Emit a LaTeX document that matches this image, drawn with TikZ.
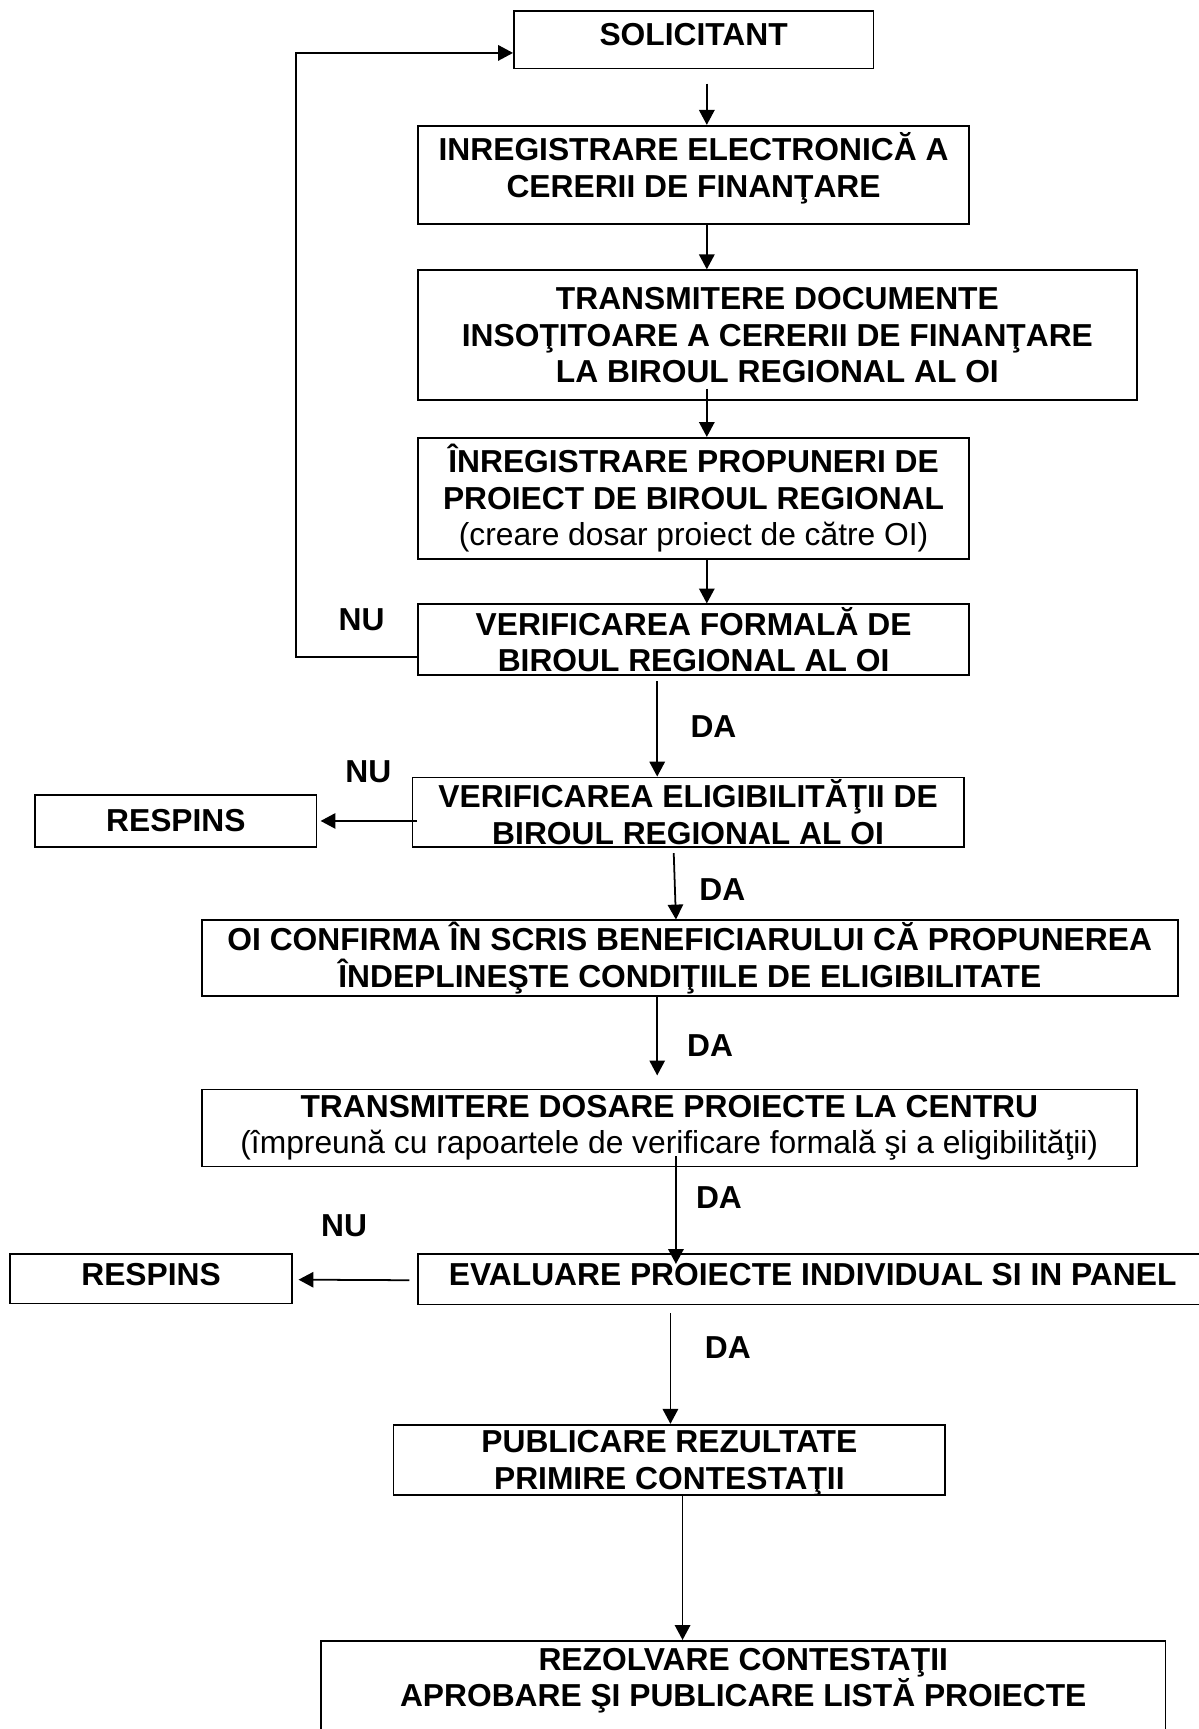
\documentclass[tikz,border=0pt]{standalone}
\usepackage{fontspec}
\setmainfont{Liberation Sans}
\usetikzlibrary{arrows.meta,calc}

\tikzset{
  box/.style={draw, rectangle, line width=1.5pt, align=center, inner sep=2pt,
    font=\bfseries\fontsize{28.8}{33}\selectfont},
  arr/.style={line width=1.6pt, -{Triangle[length=13.5pt,width=14pt]}},
  lbl/.style={font=\bfseries\fontsize{28.8}{33}\selectfont}
}

\begin{document}
\begin{tikzpicture}[x=1pt,y=1pt]
\useasboundingbox (0,0) rectangle (1087,-1568);
\begin{scope}
    \node[box, minimum width=326pt, minimum height=52pt, text depth=9pt] (sol) at (629,-36) {SOLICITANT};
    \node[box, minimum width=500pt, minimum height=89pt, text depth=18pt] (inreg) at (629,-158.5) {INREGISTRARE ELECTRONICĂ A\\CERERII DE FINANŢARE};
    \node[box, minimum width=652pt, minimum height=118pt] (trans) at (705,-304) {TRANSMITERE DOCUMENTE\\INSOŢITOARE A CERERII DE FINANŢARE\\LA BIROUL REGIONAL AL OI};
    \node[box, minimum width=500pt, minimum height=110pt] (prop) at (629,-452) {ÎNREGISTRARE PROPUNERI DE\\PROIECT DE BIROUL REGIONAL\\{\mdseries (creare dosar proiect de către OI)}};
    \node[box, minimum width=500pt, minimum height=64pt] (verf) at (629,-580) {VERIFICAREA FORMALĂ DE\\BIROUL REGIONAL AL OI};
    \node[box, minimum width=500pt, minimum height=63pt] (elig) at (624,-736.5) {VERIFICAREA ELIGIBILITĂŢII DE\\BIROUL REGIONAL AL OI};
    \node[box, minimum width=255pt, minimum height=47pt] (resp1) at (159.5,-744.5) {RESPINS};
    \node[box, minimum width=885pt, minimum height=58pt] (conf) at (625.5,-869) {OI CONFIRMA ÎN SCRIS BENEFICIARULUI CĂ PROPUNEREA\\ÎNDEPLINEŞTE CONDIŢIILE DE ELIGIBILITATE};
    \node[box, minimum width=848pt, minimum height=70pt] (dos) at (607,-1023) {TRANSMITERE DOSARE PROIECTE LA CENTRU\\{\mdseries (împreună cu rapoartele de verificare formală şi a eligibilităţii)}};
    \node[box, minimum width=716pt, minimum height=46pt, text depth=8pt] (eval) at (737,-1160) {EVALUARE PROIECTE INDIVIDUAL SI IN PANEL};
    \node[box, minimum width=256pt, minimum height=45pt, text depth=8pt] (resp2) at (137,-1159.5) {RESPINS};
    \node[box, minimum width=500pt, minimum height=64pt, text depth=-4pt] (pub) at (607,-1324) {PUBLICARE REZULTATE\\PRIMIRE CONTESTAŢII};
    \node[box, minimum width=766pt, minimum height=84pt, text depth=18pt] (rez) at (674,-1530) {REZOLVARE CONTESTAŢII\\APROBARE ŞI PUBLICARE LISTĂ PROIECTE};
\end{scope}
% DA / NU
\node[lbl] (nu1) at (328,-562) {NU};
\node[lbl] (da1) at (647,-659) {DA};
\node[lbl] (nu2) at (334,-700) {NU};
\node[lbl] (da2) at (655,-807) {DA};
\node[lbl] (da3) at (644,-948) {DA};
\node[lbl] (da4) at (652,-1086) {DA};
\node[lbl] (nu3) at (312,-1112) {NU};
\node[lbl] (da5) at (660,-1222) {DA};
% sageti
\draw[arr] ($(sol.south)+(12,-13)$) -- ($(inreg.north)+(12,0)$);
\draw[arr] ($(inreg.south)+(12,0)$) -- ($(inreg.south |- trans.north)+(12,0)$);
\draw[arr] ($(prop.north |- trans.south)+(12,11)$) -- ($(prop.north)+(12,0)$);
\draw[arr] ($(prop.south)+(12,0)$) -- ($(verf.north)+(12,0)$);
\draw[arr] ($(verf.west)+(0,-16)$) -- ++(-110,0) |- ($(sol.west)+(0,-12)$);
\draw[arr] ($(verf.south)+(-33,-5)$) -- ($(verf.south |- elig.north)+(-33,0)$);
\draw[arr] ($(elig.west)+(5,-8)$) -- ($(resp1.east)+(3,0)$);
\draw[arr] ($(elig.south)+(-13,-5)$) -- ($(conf.north)+(-12.5,0)$);
\draw[arr] ($(conf.south)+(-29.5,0)$) -- ($(dos.north)+(-11,12)$);
\draw[arr] ($(dos.south)+(6,10)$) -- ($(eval.north)+(-124,-10)$);
\draw[arr] ($(eval.west)+(-7,-1)$) -- ($(resp2.east)+(5,-1)$);
\draw[arr] ($(eval.south)+(-129,-7)$) -- ($(pub.north)+(1,0)$);
\draw[arr] ($(pub.south)+(12,0)$) -- ($(rez.north)+(-55,0)$);
\end{tikzpicture}
\end{document}
